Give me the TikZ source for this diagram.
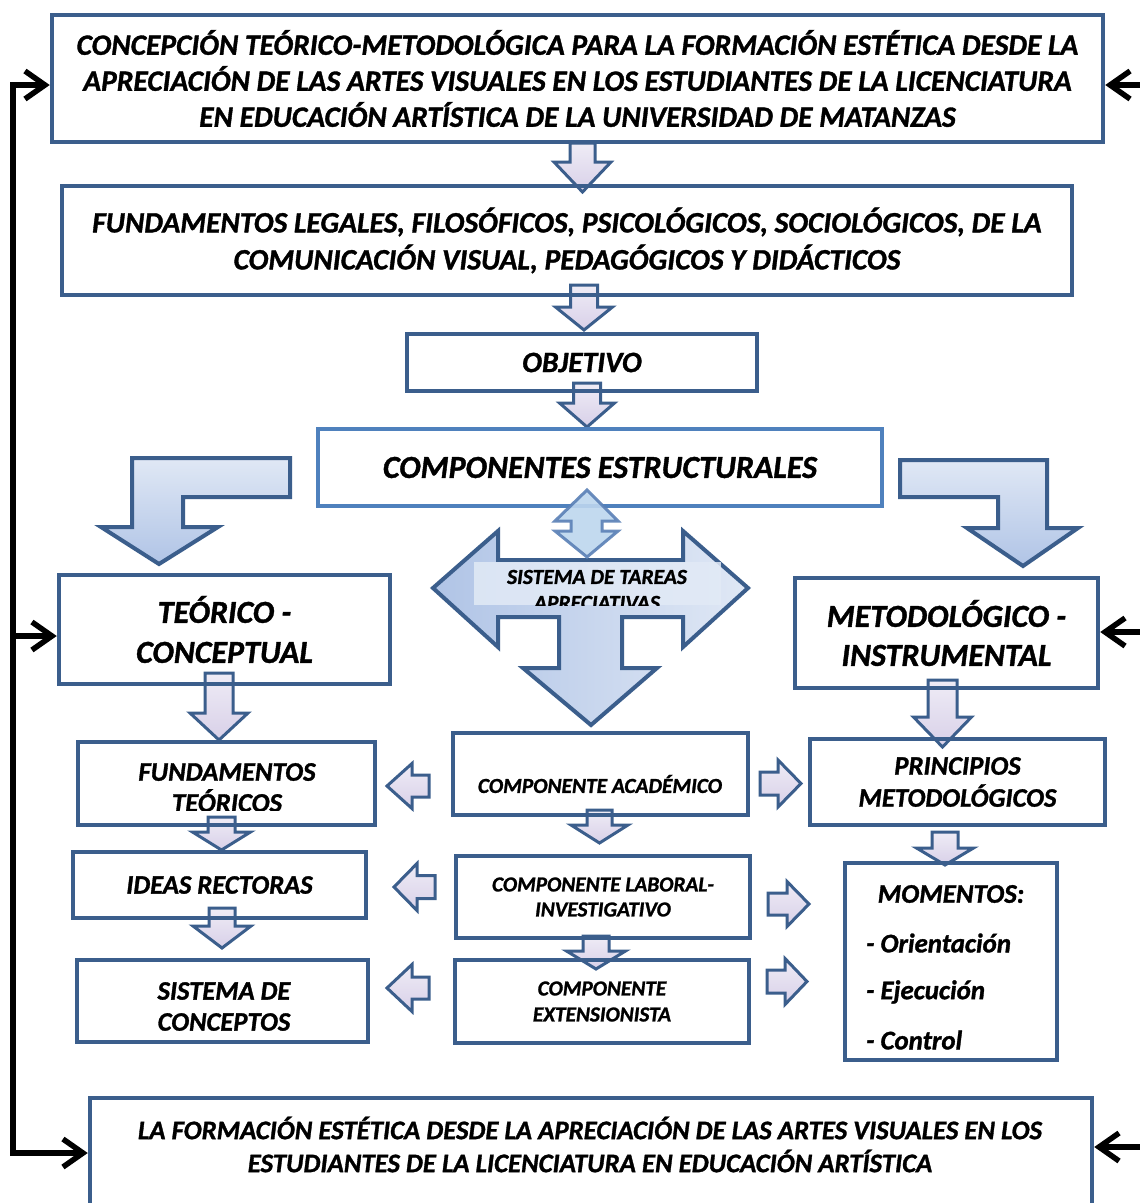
\documentclass[tikz,border=0pt]{standalone}
\usepackage{fontspec}
\setmainfont{Carlito}
\newfontface\cbi{Carlito-BoldItalic}[Extension=.ttf, FakeBold=1.2]
\usetikzlibrary{arrows.meta, calc}
\definecolor{boxblue}{HTML}{3B5E8C}
\definecolor{compblue}{HTML}{4F81BD}
\definecolor{lavlt}{HTML}{EFECF6}
\definecolor{lavdk}{HTML}{D8D0E8}
\definecolor{bluelt}{HTML}{E0E8F5}
\definecolor{bluedk}{HTML}{B0C4E6}
\definecolor{skyfill}{HTML}{BDD6EE}
\definecolor{skyline}{HTML}{5A80B6}
\definecolor{bandfill}{HTML}{E2EAF6}
\newcommand{\fsz}[2]{\cbi\fontsize{#1}{#2}\selectfont}
% block arrow pointing down: x, top, head base, tip, half shaft, half head
\newcommand{\blkdown}[6]{%
  \draw[blk] ({#1-#5},#2) -- ({#1+#5},#2) -- ({#1+#5},#3) -- ({#1+#6},#3)
    -- (#1,#4) -- ({#1-#6},#3) -- ({#1-#5},#3) -- cycle;}
% block arrow left or right: y, tail, head base, tip, half shaft, half head
\newcommand{\blkside}[6]{%
  \draw[blk] (#2,{#1-#5}) -- (#3,{#1-#5}) -- (#3,{#1-#6}) -- (#4,#1)
    -- (#3,{#1+#6}) -- (#3,{#1+#5}) -- (#2,{#1+#5}) -- cycle;}
\tikzset{
  % Boxes
  box/.style={draw=boxblue, line width=4.5pt, align=center, inner sep=0pt},
  cbox/.style={box, draw=compblue, line width=4pt},
  txt/.style={align=center, inner sep=0pt},
  % Block arrows
  blk/.style={draw=boxblue, line width=3pt, line join=miter,
    top color=lavlt, bottom color=lavdk},
  bigblk/.style={draw=boxblue, line width=4pt, line join=miter},
  % Feedback lines
  fbtip/.tip={Straight Barb[length=20pt, width=28pt]},
  fb/.style={line width=5.5pt, -fbtip, line cap=round, line join=miter},
  fbb/.style={line width=5.5pt, fbtip-fbtip, line cap=round, line join=miter},
}

\begin{document}
\begin{tikzpicture}[x=1pt, y=-1pt]
  \useasboundingbox (0,0) rectangle (1140,1203);
  \fill[white] (0,0) rectangle (1140,1203);
  \clip (0,0) rectangle (1140,1203);

  % central block arrows
  \blkdown{582.5}{143}{162}{192}{12.5}{28.5}
  \blkdown{584}{285}{307}{330}{13.5}{28.5}
  \blkdown{587}{383}{403}{427}{13.5}{27.5}

  % bent arrows from the structural components
  \draw[bigblk, top color=bluelt, bottom color=bluedk] (290,458) -- (132,458) -- (132,527)
    -- (101,527) -- (159,564) -- (218,527) -- (183,527) -- (183,497) -- (290,497) -- cycle;
  \draw[bigblk, top color=bluelt, bottom color=bluedk] (900,460) -- (1047,460) -- (1047,528)
    -- (1078,528) -- (1023,566) -- (967,528) -- (998,528) -- (998,497) -- (900,497) -- cycle;

  % three-way arrow
  \draw[bigblk, left color=bluedk, right color=bluelt] (433,588) -- (498,531) -- (498,560)
    -- (683,560) -- (683,531) -- (748,588) -- (683,647) -- (683,617) -- (622,617)
    -- (622,668) -- (657,668) -- (591,725) -- (523,668) -- (559,668) -- (559,617)
    -- (498,617) -- (498,647) -- cycle;
  \fill[bandfill, opacity=0.85] (474,562) rectangle (721,605);
  \begin{scope}
    \clip (474,562) rectangle (721,605);
    \node[txt, font=\fsz{21.5}{26}] (sta) at (597,590) {SISTEMA DE TAREAS\\APRECIATIVAS};
  \end{scope}

  % left column arrows
  \blkdown{219}{673}{713}{740}{14}{29}
  \blkdown{221.5}{817}{832}{850}{13.5}{29}
  \blkdown{222}{908}{926}{948}{13}{29}
  % middle column arrows
  \blkdown{599.5}{810}{825}{843}{12.5}{28.5}
  \blkdown{596}{936}{951}{969}{13}{29.5}
  % right column arrows
  \blkdown{942.5}{680}{717}{747}{14.5}{29}
  \blkdown{945}{832}{848}{865}{13}{28.5}
  % side arrows
  \blkside{786}{429}{412}{387}{11}{22.5}
  \blkside{887}{435}{417}{394}{11.5}{23.5}
  \blkside{988}{429}{412}{387}{11}{23.5}
  \blkside{783.5}{760}{778}{801}{11.5}{23.5}
  \blkside{904}{768}{787}{809}{11}{22.5}
  \blkside{981.5}{767}{785}{807}{11.5}{23}

  % boxes
  \node[box, minimum width=1051pt, minimum height=127pt, font=\fsz{29.5}{36}] (top) at (577.5,78.5)
    {CONCEPCIÓN TEÓRICO-METODOLÓGICA PARA LA FORMACIÓN ESTÉTICA DESDE LA\\
     APRECIACIÓN DE LAS ARTES VISUALES EN LOS ESTUDIANTES DE LA LICENCIATURA\\
     EN EDUCACIÓN ARTÍSTICA DE LA UNIVERSIDAD DE MATANZAS};
  \node[box, minimum width=1010pt, minimum height=109pt, font=\fsz{29.5}{37}] (fund) at (567,240.5)
    {FUNDAMENTOS LEGALES, FILOSÓFICOS, PSICOLÓGICOS, SOCIOLÓGICOS, DE LA\\
     COMUNICACIÓN VISUAL, PEDAGÓGICOS Y DIDÁCTICOS};
  \node[box, minimum width=350pt, minimum height=57pt, font=\fsz{29.5}{30}] (obj) at (582,362.5) {OBJETIVO};
  \node[cbox, minimum width=564pt, minimum height=77pt, font=\fsz{32}{34}] (comp) at (600,467.5)
    {COMPONENTES ESTRUCTURALES};
  \draw[line width=3pt, draw=skyline, fill=skyfill, opacity=0.9, line join=miter] (587,490) -- (618,521)
    -- (602,521) -- (602,531) -- (618,531) -- (587,557) -- (555,531) -- (571,531)
    -- (571,521) -- (555,521) -- cycle;

  \node[box, minimum width=331pt, minimum height=109pt, font=\fsz{32}{40}] (teo) at (224.5,629.5)
    {TEÓRICO -\\CONCEPTUAL};
  \node[box, minimum width=303pt, minimum height=110pt, font=\fsz{32}{39}] (met) at (946.5,633)
    {METODOLÓGICO -\\INSTRUMENTAL};

  % left column
  \node[box, minimum width=297pt, minimum height=83pt] (ft) at (226.5,783.5) {};
  \begin{scope}
    \clip (80,744) rectangle (372,810);
    \node[txt, font=\fsz{26.8}{31}] (ftT) at (227,787.5) {FUNDAMENTOS\\TEÓRICOS};
  \end{scope}
  \node[box, minimum width=293pt, minimum height=66pt, font=\fsz{26.6}{30}] (ir) at (219.5,885)
    {IDEAS RECTORAS};
  \node[box, minimum width=291pt, minimum height=82pt] (sc) at (222.5,1001) {};
  \begin{scope}
    \clip (80,962) rectangle (366,1030);
    \node[txt, font=\fsz{26.6}{31}] (scT) at (224,1006.5) {SISTEMA DE\\CONCEPTOS};
  \end{scope}

  % middle column
  \node[box, minimum width=295pt, minimum height=82pt] (ca) at (600.5,774) {};
  \node[txt, font=\fsz{21.4}{24}] (caT) at (600,784) {COMPONENTE ACADÉMICO};
  \node[box, minimum width=294pt, minimum height=82pt, font=\fsz{21.3}{25}] (cl) at (603,897)
    {COMPONENTE LABORAL-\\INVESTIGATIVO};
  \node[box, minimum width=294pt, minimum height=83pt, font=\fsz{21.3}{26}] (ce) at (602,1001.5)
    {COMPONENTE\\EXTENSIONISTA};

  % right column
  \node[box, minimum width=295pt, minimum height=86pt, font=\fsz{26.7}{32}] (pm) at (957.5,782)
    {PRINCIPIOS\\METODOLÓGICOS};
  \node[box, minimum width=212pt, minimum height=197pt] (mo) at (951,961.5) {};
  \node[txt, font=\fsz{26.9}{30}] (moT) at (951,894) {MOMENTOS:};
  \foreach \t/\y [count=\i] in {Orientación/943, Ejecución/992, Control/1040}
    \node[txt, anchor=west, font=\fsz{26.9}{30}] (mo\i) at (866,\y) {- \t};

  % result
  \node[box, minimum width=1002pt, minimum height=117pt] (bot) at (591,1156.5) {};
  \node[txt, font=\fsz{26.8}{33}] (botT) at (590,1144.5)
    {LA FORMACIÓN ESTÉTICA DESDE LA APRECIACIÓN DE LAS ARTES VISUALES EN LOS\\
     ESTUDIANTES DE LA LICENCIATURA EN EDUCACIÓN ARTÍSTICA};

  % feedback lines
  \coordinate (fbA) at (13,85);
  \coordinate (fbB) at (13,636);
  \coordinate (fbC) at (13,1153);
  \draw[fbb] (top.west |- fbA) -- (fbA) -- (fbC) -- (bot.west |- fbC);
  \draw[fb] (fbB) -- (teo.west |- fbB);
  \coordinate (fbR1) at (1150,85);
  \coordinate (fbR2) at (1150,632);
  \coordinate (fbR3) at (1150,1147);
  \draw[fb] (fbR1) -- (top.east |- fbR1);
  \draw[fb] (fbR2) -- (met.east |- fbR2);
  \draw[fb] (fbR3) -- (bot.east |- fbR3);
\end{tikzpicture}
\end{document}
